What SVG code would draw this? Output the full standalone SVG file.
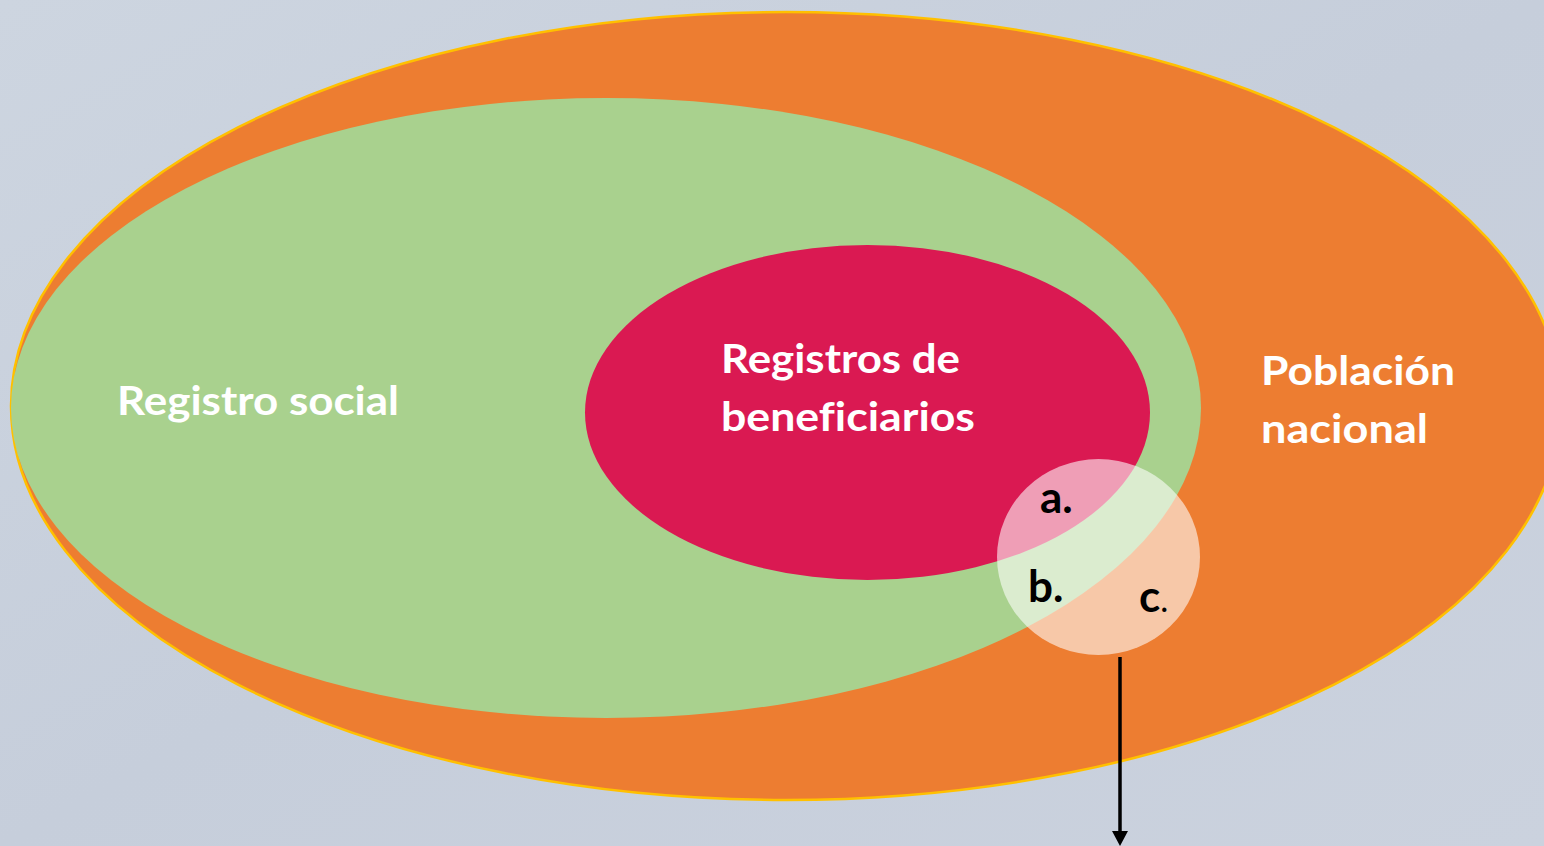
<svg xmlns="http://www.w3.org/2000/svg" width="1544" height="846" viewBox="0 0 1544 846">
  <defs>
    <linearGradient id="bg" x1="0" y1="0" x2="1" y2="1">
      <stop offset="0" stop-color="#cdd5e0"/>
      <stop offset="0.5" stop-color="#c6cedb"/>
      <stop offset="1" stop-color="#cbd2de"/>
    </linearGradient>
    <style>
      .lbl { font-family: "Lato", "Open Sans", "Liberation Sans", sans-serif; font-weight: 700; fill: #ffffff; font-size: 40px; font-variant-ligatures: none; }
      .sm { font-family: "Lato", "Open Sans", "Liberation Sans", sans-serif; font-weight: 700; fill: #000000; font-size: 44px; }
    </style>
  </defs>
  <rect x="0" y="0" width="1544" height="846" fill="url(#bg)"/>

  <g id="poblacion-nacional">
    <ellipse cx="786" cy="406" rx="775" ry="394" fill="#ED7D31" stroke="#FFC000" stroke-width="2.5"/>
    <text class="lbl" x="1261" y="385" textLength="194" lengthAdjust="spacingAndGlyphs">Población</text>
    <text class="lbl" x="1261" y="443" textLength="167" lengthAdjust="spacingAndGlyphs">nacional</text>
  </g>

  <g id="registro-social">
    <ellipse cx="606" cy="408" rx="595" ry="310" fill="#A9D18E"/>
    <text class="lbl" x="117" y="415" textLength="282" lengthAdjust="spacingAndGlyphs">Registro social</text>
  </g>

  <g id="registros-beneficiarios">
    <ellipse cx="867.5" cy="412.5" rx="282.5" ry="167.5" fill="#DA1952"/>
    <text class="lbl" x="721" y="373" textLength="239" lengthAdjust="spacingAndGlyphs">Registros de</text>
    <text class="lbl" x="721" y="431" textLength="254" lengthAdjust="spacingAndGlyphs">beneficiarios</text>
  </g>

  <g id="interseccion">
    <ellipse cx="1098.5" cy="557" rx="101.5" ry="98" fill="#ffffff" fill-opacity="0.58"/>
    <text class="sm" x="1040" y="513">a.</text>
    <text class="sm" x="1028" y="602">b.</text>
    <text class="sm" x="1139" y="612">c<tspan font-weight="400" font-size="34">.</tspan></text>
  </g>

  <g id="connectors">
    <line x1="1120" y1="657" x2="1120" y2="833" stroke="#000" stroke-width="3.5"/>
    <path d="M1112,831 L1128,831 L1120,846 Z" fill="#000"/>
  </g>
</svg>
